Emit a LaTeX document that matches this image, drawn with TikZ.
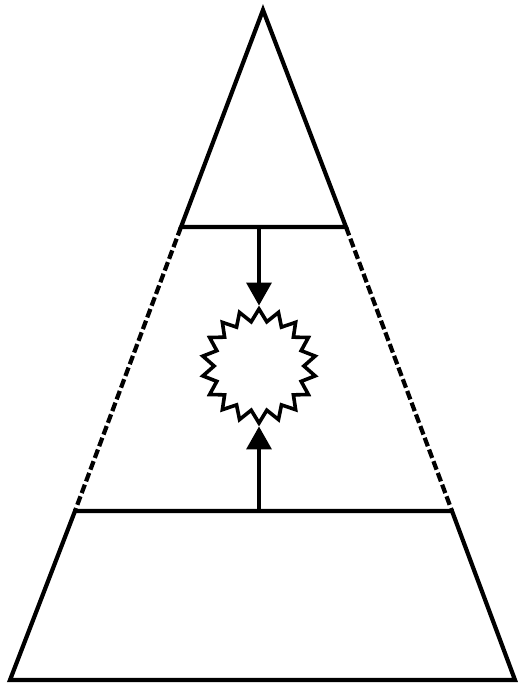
\documentclass[tikz,border=0pt]{standalone}
\usepackage{tikz}
\usetikzlibrary{arrows.meta,shapes.geometric}

\begin{document}
\begin{tikzpicture}[
    x=1pt, y=-1pt,
    edge/.style={line width=4.2pt, line join=miter},
    faded/.style={edge, dash pattern=on 9pt off 3.5pt},
    burst/.style={star, star points=18, star point ratio=1.27, draw, line width=3.6pt, minimum size=114pt, inner sep=0pt},
    arrow/.style={-{Triangle[length=23pt, width=25pt]}, line width=3.6pt}
  ]
    \useasboundingbox (0,0) rectangle (518,686);
    % outline
    \coordinate (apex) at (263,10);
    \coordinate (upl) at (181,227);
    \coordinate (upr) at (346,227);
    \coordinate (lowl) at (75,511);
    \coordinate (lowr) at (452,511);
    \coordinate (botl) at (10,680);
    \coordinate (botr) at (515,680);
    \coordinate (top) at (259,227);
    \coordinate (base) at (259,511);
    \node[burst] (clash) at (259,366) {};

    \draw[edge] (upl) -- (apex) -- (upr) -- cycle;
    \draw[edge] (lowl) -- (botl) -- (botr) -- (lowr) -- cycle;
    \draw[faded] (upl) -- (lowl);
    \draw[faded] (upr) -- (lowr);

    \draw[arrow] (top) -- (clash.north);
    \draw[arrow] (base) -- (clash.south);
  \end{tikzpicture}
\end{document}
